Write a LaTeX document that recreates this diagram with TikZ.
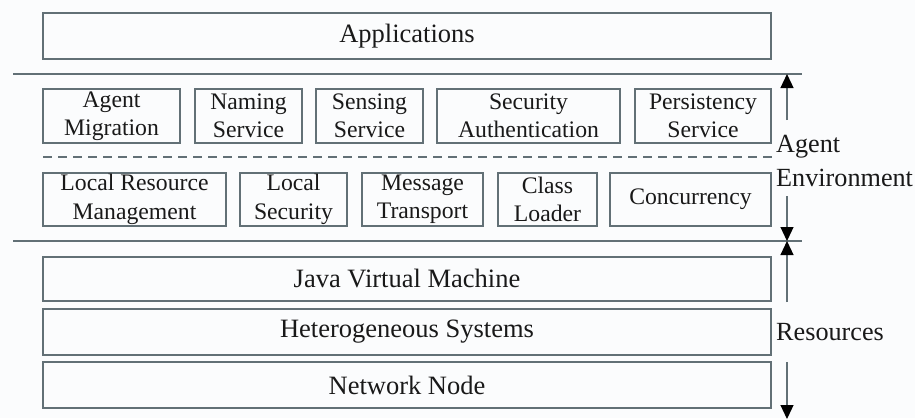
\documentclass[tikz,border=0pt]{standalone}
\usepackage{fontspec}
\setmainfont{Liberation Serif}
\usetikzlibrary{arrows.meta}
\definecolor{strk}{RGB}{98,112,118}
\definecolor{bgc}{RGB}{251,252,253}
\definecolor{txt}{RGB}{25,25,25}
\begin{document}
\begin{tikzpicture}[x=1pt,y=-1pt,
  box/.style={draw=strk,line width=1.3pt,inner sep=0pt,align=center,text=txt,
    font=\fontsize{23.7}{28.5}\selectfont},
  bigbox/.style={box,font=\fontsize{26.5}{30}\selectfont},
  sep/.style={draw=strk,line width=1.3pt},
  lbl/.style={inner sep=0pt,text=txt,font=\fontsize{26.2}{30}\selectfont},
  arr/.style={draw=strk,line width=1.2pt,-{Triangle[width=13pt,length=14pt,fill=black,color=black]}}]
\fill[bgc] (0,0) rectangle (915,418);
\useasboundingbox (0,0) rectangle (915,418);
% top
\node[bigbox,minimum width=728pt,minimum height=46pt] (app) at (407,36) {Applications};
% separators
\coordinate (l1a) at (13,74); \coordinate (l1b) at (802,74);
\coordinate (l2a) at (13,241); \coordinate (l2b) at (802,241);
\coordinate (da) at (43,157); \coordinate (db) at (772,157);
\draw[sep] (l1a) -- (l1b);
\draw[sep] (l2a) -- (l2b);
\draw[sep,dash pattern=on 9pt off 6pt] (da) -- (db);
% row 1
\node[box,minimum width=137pt,minimum height=54pt] (am) at (111.5,116) {Agent\\Migration};
\node[box,minimum width=107pt,minimum height=54pt] (ns) at (248.5,116) {Naming\\Service};
\node[box,minimum width=107pt,minimum height=54pt] (ss) at (369.5,116) {Sensing\\Service};
\node[box,minimum width=183pt,minimum height=54pt] (sa) at (528.5,116) {Security\\Authentication};
\node[box,minimum width=136pt,minimum height=54pt] (ps) at (703,116) {Persistency\\Service};
% row 2
\node[box,minimum width=183pt,minimum height=53pt] (lrm) at (134.5,199.5) {Local Resource\\Management};
\node[box,minimum width=107pt,minimum height=53pt] (ls) at (293.5,199.5) {Local\\Security};
\node[box,minimum width=121pt,minimum height=53pt] (mt) at (422.5,199.5) {Message\\Transport};
\node[box,minimum width=99pt,minimum height=53pt] (cl) at (547.5,199.5) {Class\\Loader};
\node[box,minimum width=161pt,minimum height=53pt] (cc) at (690.5,199.5) {Concurrency};
% resources
\node[bigbox,minimum width=728pt,minimum height=44pt] (jvm) at (407,279) {Java Virtual Machine};
\node[bigbox,minimum width=728pt,minimum height=46pt] (hs) at (407,332) {Heterogeneous Systems};
\node[bigbox,minimum width=728pt,minimum height=46pt] (nn) at (407,385) {Network Node};
% labels
\node[lbl,anchor=base west] (ae1) at (776,152) {Agent};
\node[lbl,anchor=base west] (ae2) at (776,186) {Environment};
\node[lbl,anchor=base west] (res) at (776,340) {Resources};
% arrows
\coordinate (a1s) at (787,120); \coordinate (a1e) at (787,74);
\coordinate (a2s) at (787,196); \coordinate (a2e) at (787,241);
\coordinate (a3s) at (787,302); \coordinate (a3e) at (787,241);
\coordinate (a4s) at (787,362); \coordinate (a4e) at (787,419);
\draw[arr] (a1s) -- (a1e);
\draw[arr] (a2s) -- (a2e);
\draw[arr] (a3s) -- (a3e);
\draw[arr] (a4s) -- (a4e);
\end{tikzpicture}
\end{document}
